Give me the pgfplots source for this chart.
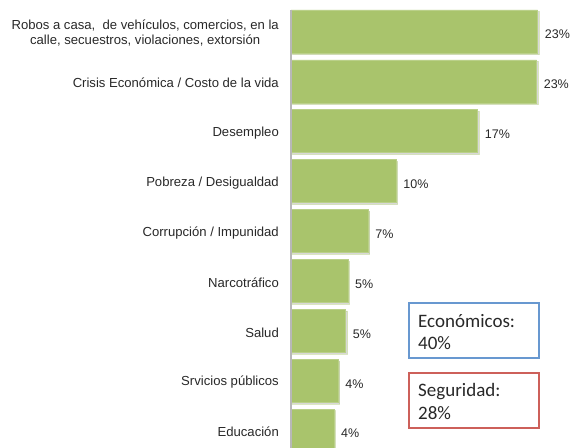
\documentclass[border=0pt]{standalone}
\usepackage{pgfplots}
\pgfplotsset{compat=1.18}
\usepackage{fontspec}
\setmainfont{Liberation Sans}
\newfontfamily\calib{Carlito}
\usetikzlibrary{shadows}
\definecolor{barg}{RGB}{169,196,108}
\definecolor{bboxc}{RGB}{104,152,208}
\definecolor{rboxc}{RGB}{205,96,90}
\definecolor{txt}{RGB}{40,40,40}
\begin{document}
\begin{tikzpicture}
\begin{axis}[
  at={(291bp,0)}, anchor=north west,
  scale only axis, width=281bp, height=448bp,
  xbar, bar width=43bp,
  xmin=0, xmax=26.21,
  ymin=-0.631, ymax=8.347, y dir=reverse,
  axis line style={draw=none},
  xtick=\empty,
  ytick={0,...,8},
  major tick length=0pt,
  /pgf/number format/assume math mode=true,
  yticklabels={{Robos a casa,~ de vehículos, comercios, en la\\calle, secuestros, violaciones, extorsión},
    {Crisis Económica / Costo de la vida},
    {Desempleo},
    {Pobreza / Desigualdad},
    {Corrupción / Impunidad},
    {Narcotráfico},
    {Salud},
    {Srvicios públicos},
    {Educación}},
  yticklabel style={font=\fontsize{13.1bp}{15.5bp}\selectfont, text=txt, align=center, inner sep=0pt, xshift=-12bp, yshift=-1.5bp},
  point meta=x,
  nodes near coords={\pgfmathprintnumber[fixed,precision=0,assume math mode=true]{\pgfplotspointmeta}\%},
  nodes near coords style={font=\fontsize{12.5bp}{14bp}\selectfont, text=txt, anchor=west, inner sep=0pt, xshift=7bp, yshift=-3bp},
]
\addplot[fill=barg, draw=barg!80!white, line width=0.6bp,
  drop shadow={shadow xshift=1.6bp, shadow yshift=-1.6bp, fill=black!30, opacity=0.5}]
  coordinates {(23.0,0) (22.9,1) (17.4,2) (9.8,3) (7.2,4) (5.3,5) (5.1,6) (4.4,7) (4.0,8)};
\end{axis}
\draw[black!28, line width=1.3bp] (291bp,-10bp) -- (291bp,-448bp);
\draw[bboxc, line width=1.5bp] (409bp,-303bp) rectangle (539bp,-358bp);
\draw[rboxc, line width=1.5bp] (409bp,-373bp) rectangle (539bp,-428bp);
\node[anchor=base west, inner sep=0pt, text=txt, font=\calib\fontsize{19bp}{22bp}\selectfont] at (418bp,-327.3bp) {Económicos:};
\node[anchor=base west, inner sep=0pt, text=txt, font=\calib\fontsize{19bp}{22bp}\selectfont] at (418bp,-349.5bp) {40\%};
\node[anchor=base west, inner sep=0pt, text=txt, font=\calib\fontsize{19bp}{22bp}\selectfont] at (418bp,-396.7bp) {Seguridad:};
\node[anchor=base west, inner sep=0pt, text=txt, font=\calib\fontsize{19bp}{22bp}\selectfont] at (418bp,-419.3bp) {28\%};
\pgfresetboundingbox
\path[use as bounding box] (0,0) rectangle (572bp,-448bp);
\end{tikzpicture}
\end{document}
